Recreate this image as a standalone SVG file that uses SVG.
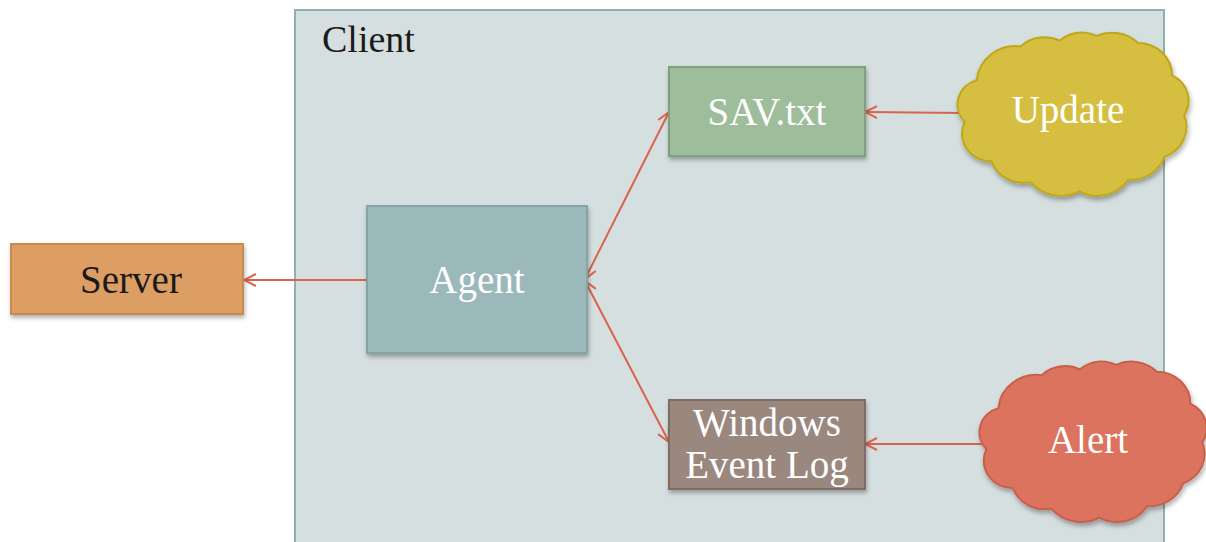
<svg xmlns="http://www.w3.org/2000/svg" width="1206" height="542" viewBox="0 0 1206 542">
<style>
.t{font-family:"Liberation Serif","Times New Roman",serif;font-size:39px;text-anchor:middle;fill:#ffffff}
.box{stroke-width:2}
.c{fill:none;stroke:#d9634c;stroke-width:2}
</style>
<defs>
<filter id="sh" x="-10%" y="-10%" width="130%" height="130%">
<feDropShadow dx="1" dy="3" stdDeviation="2" flood-color="#000" flood-opacity="0.3"/>
</filter>
<marker id="ah" viewBox="0 0 14 14" refX="13" refY="7" markerWidth="14" markerHeight="14" markerUnits="userSpaceOnUse" orient="auto-start-reverse">
<path d="M1,1 L13,7 L1,13" fill="none" stroke="#d9634c" stroke-width="2"/>
</marker>
<path id="cloud" d="M12,80 A22,22 0 0 1 22,44 A32,32 0 0 1 58,15 A28,28 0 0 1 90,10 A26,26 0 0 1 120,6 A30,30 0 0 1 154,12 A28,28 0 0 1 182,40 A24,24 0 0 1 192,74 A28,28 0 0 1 176,110 A30,30 0 0 1 146,130 A30,30 0 0 1 106,140 A32,32 0 0 1 66,132 A28,28 0 0 1 34,114 A24,24 0 0 1 12,80 Z"/>
</defs>
<g id="client">
<rect x="295" y="10" width="869" height="540" fill="#d6dfe0" stroke="#8fb0b0" stroke-width="2"/>
<text x="322" y="52" style="font-family:'Liberation Serif','Times New Roman',serif;font-size:38px;fill:#1a1a1a">Client</text>
</g>
<g id="connectors">
<line class="c" x1="964" y1="113" x2="865" y2="112" marker-end="url(#ah)"/>
<line class="c" x1="985" y1="444" x2="865" y2="444" marker-end="url(#ah)"/>
<line class="c" x1="367" y1="280" x2="244" y2="280" marker-end="url(#ah)"/>
<line class="c" x1="585" y1="279" x2="669" y2="112" marker-start="url(#ah)" marker-end="url(#ah)"/>
<line class="c" x1="585" y1="281" x2="669" y2="442" marker-start="url(#ah)" marker-end="url(#ah)"/>
</g>
<g id="server">
<rect class="box" x="11" y="244" width="232" height="70" fill="#dc9e63" stroke="#c98a4e" filter="url(#sh)"/>
<text class="t" x="131" y="293" style="fill:#1a1a1a">Server</text>
</g>
<g id="agent">
<rect class="box" x="367" y="206" width="220" height="147" fill="#9bb8bb" stroke="#84a4a8" filter="url(#sh)"/>
<text class="t" x="477" y="293">Agent</text>
</g>
<g id="sav">
<rect class="box" x="669" y="67" width="196" height="89" fill="#9dbd9b" stroke="#7ea17d" filter="url(#sh)"/>
<text class="t" x="767" y="125">SAV.txt</text>
</g>
<g id="wel">
<rect class="box" x="669" y="400" width="196" height="89" fill="#9a877e" stroke="#7f6d65" filter="url(#sh)"/>
<text class="t" x="767" y="436">Windows</text>
<text class="t" x="767" y="478">Event Log</text>
</g>
<g id="update">
<use href="#cloud" transform="translate(950,29) scale(1.22,1.16)" fill="#d6bf41" stroke="#bfa818" stroke-width="1.7" filter="url(#sh)"/>
<text class="t" x="1068" y="123">Update</text>
</g>
<g id="alert">
<use href="#cloud" transform="translate(972,358) scale(1.2,1.14)" fill="#dc735f" stroke="#c86048" stroke-width="1.7" filter="url(#sh)"/>
<text class="t" x="1088" y="453">Alert</text>
</g>
</svg>
